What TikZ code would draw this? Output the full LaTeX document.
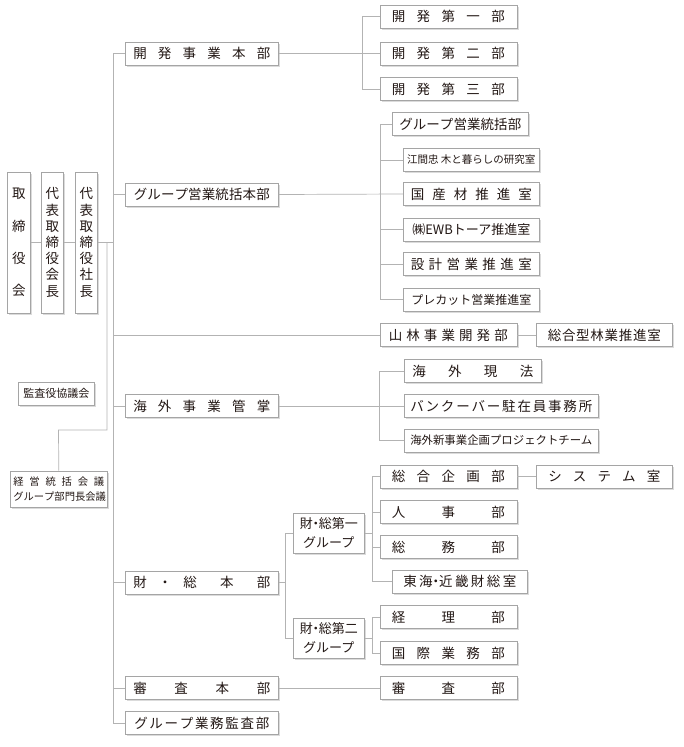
\documentclass[tikz,border=0pt]{standalone}
\usepackage{fontspec}
\setmainfont{Noto Sans CJK JP}
\usetikzlibrary{shadows}
\definecolor{ink}{HTML}{231815}
\definecolor{rulegray}{HTML}{B3B3B3}
\definecolor{edgegray}{HTML}{A5A5A5}
\makeatletter
\newcommand\spread[2]{\makebox[#1][s]{\spread@first#2\@nil}}
\def\spread@first#1{#1\spread@rest}
\def\spread@rest#1{\ifx#1\@nil\else\hfill#1\expandafter\spread@rest\fi}
\makeatother
\newcommand\ndot{\kern-3.5pt・\kern-3.5pt}
\begin{document}
\begin{tikzpicture}[x=1pt, y=-1pt,
        dept/.style={draw=edgegray, line width=0.6pt, fill=white, text=ink,
            drop shadow={shadow xshift=1.8pt, shadow yshift=-1.8pt, fill=black!28},
            inner sep=0pt, minimum height=23pt, anchor=west,
            font=\fontsize{13.5pt}{16pt}\selectfont},
        vert/.style={dept, minimum height=141pt, align=center},
        link/.style={draw=rulegray, line width=0.7pt}]
        \useasboundingbox (0,0) rectangle (684,747);
        % board
        \node[vert, minimum width=23pt, font=\fontsize{13.5pt}{32.3pt}\selectfont] (torishimari) at (7,242.5) {取\\締\\役\\会};
        \node[vert, minimum width=22pt, font=\fontsize{13.5pt}{16.2pt}\selectfont] (kaicho) at (41,242.5) {代\\表\\取\\締\\役\\会\\長};
        \node[vert, minimum width=22pt, font=\fontsize{13.5pt}{16.2pt}\selectfont] (shacho) at (75,242.5) {代\\表\\取\\締\\役\\社\\長};
        \node[dept, minimum width=76pt, font=\fontsize{11pt}{13pt}\selectfont] (kansayaku) at (18,393.5) {監査役協議会};
        \node[dept, minimum width=97pt, minimum height=36pt, align=center, font=\fontsize{10.3pt}{15pt}\selectfont] (keiei) at (10,489) {\spread{91pt}{経営統括会議}\\\spread{91pt}{グループ部門長会議}};
        % head offices
        \node[dept, minimum width=153pt] (kaihatsu) at (125,53.5) {\spread{137pt}{開発事業本部}};
        \node[dept, minimum width=153pt] (eigyo) at (125,194.5) {\spread{136pt}{グループ営業統括本部}};
        \node[dept, minimum width=153pt] (kaigai) at (125,406) {\spread{137pt}{海外事業管掌}};
        \node[dept, minimum width=153pt] (zaiso) at (125,582.5) {\makebox[137pt][s]{財\hfill ・\hfill 総\hfill\hfill 本\hfill\hfill 部}};
        \node[dept, minimum width=153pt] (shinsahon) at (125,688) {\spread{137pt}{審査本部}};
        \node[dept, minimum width=153pt] (gkansa) at (125,723) {\spread{135pt}{グループ業務監査部}};
        % development
        \node[dept, minimum width=137pt] (kai1) at (379.5,16.5) {\spread{113pt}{開発第一部}};
        \node[dept, minimum width=137pt] (kai2) at (379.5,53.5) {\spread{113pt}{開発第二部}};
        \node[dept, minimum width=137pt] (kai3) at (379.5,89) {\spread{113pt}{開発第三部}};
        % sales
        \node[dept, minimum width=136pt] (eigyobu) at (392,124) {\spread{122pt}{グループ営業統括部}};
        \node[dept, minimum width=136pt, font=\fontsize{10.5pt}{12pt}\selectfont] (ema) at (403,160) {江間忠 木と暮らしの研究室};
        \node[dept, minimum width=136pt] (kokusan) at (403,194) {\spread{121pt}{国産材推進室}};
        \node[dept, minimum width=136pt, font=\fontsize{13pt}{15pt}\selectfont] (ewb) at (403,229.5) {㈱EWBトーア推進室};
        \node[dept, minimum width=136pt] (sekkei) at (403,264) {\spread{121pt}{設計営業推進室}};
        \node[dept, minimum width=136pt, font=\fontsize{12pt}{14pt}\selectfont] (precut) at (403,299.5) {プレカット営業推進室};
        % forestry
        \node[dept, minimum width=137pt] (sanrin) at (379.5,335) {\spread{119pt}{山林事業開発部}};
        \node[dept, minimum width=136pt] (sogogata) at (536,335) {\spread{113pt}{総合型林業推進室}};
        % overseas
        \node[dept, minimum width=137pt] (genpo) at (404,371) {\spread{121pt}{海外現法}};
        \node[dept, minimum width=194pt] (vanc) at (404,406) {\spread{182pt}{バンクーバー駐在員事務所}};
        \node[dept, minimum width=194pt, font=\fontsize{11.4pt}{13pt}\selectfont] (shinjigyo) at (404,440.5) {海外新事業企画プロジェクトチーム};
        % finance and general affairs
        \node[dept, minimum width=71pt, minimum height=40pt, align=center, font=\fontsize{13pt}{18.5pt}\selectfont] (zai1) at (293,533) {財\ndot 総第一\\グループ};
        \node[dept, minimum width=71pt, minimum height=40pt, align=center, font=\fontsize{13pt}{18.5pt}\selectfont] (zai2) at (293,638) {財\ndot 総第二\\グループ};
        \node[dept, minimum width=137pt] (sogo) at (379.5,476.5) {\spread{113pt}{総合企画部}};
        \node[dept, minimum width=136pt] (system) at (536,476.5) {\spread{112pt}{システム室}};
        \node[dept, minimum width=137pt] (jinji) at (379.5,512) {\spread{113pt}{人事部}};
        \node[dept, minimum width=137pt] (somu) at (379.5,547) {\spread{113pt}{総務部}};
        \node[dept, minimum width=135pt] (tokai) at (392,581.5) {\makebox[113pt][s]{東\hfill 海\ndot 近\hfill 畿\hfill 財\hfill 総\hfill 室}};
        \node[dept, minimum width=137pt] (keiri) at (379.5,617) {\spread{113pt}{経理部}};
        \node[dept, minimum width=137pt] (kokusai) at (379.5,653) {\spread{113pt}{国際業務部}};
        \node[dept, minimum width=137pt] (shinsa) at (379.5,688) {\spread{113pt}{審査部}};
        % buses
        \coordinate (trunk) at (113,0);
        \coordinate (sbus) at (107,0);
        \coordinate (kbend) at (58.5,430);
        \coordinate (kbus) at (362,0);
        \coordinate (ebus) at (380,0);
        \coordinate (gbus) at (379,0);
        \coordinate (zbus) at (285,0);
        \coordinate (zsub) at (372,0);
        % connectors
        \draw[link] (torishimari) -- (kaicho);
        \draw[link] (kaicho) -- (shacho);
        \draw[link] (shacho.east) -- (shacho.east -| trunk);
        \draw[link] (shacho.east -| sbus) |- (kbend) -- (keiei.north);
        \draw[link] (kaihatsu.west) -| (trunk |- gkansa.west) -- (gkansa.west);
        \foreach \n in {eigyo, sanrin, kaigai, zaiso, shinsahon}
            \draw[link] (trunk |- \n.west) -- (\n.west);
        \draw[link] (kaihatsu.east) -- (kai2.west);
        \draw[link] (kai1.west) -- (kai1.west -| kbus) |- (kai3.west);
        \draw[link] (eigyo.east) -- (kokusan.west);
        \draw[link] (eigyobu.west) -- (eigyobu.west -| ebus) |- (precut.west);
        \foreach \n in {ema, ewb, sekkei}
            \draw[link] (ebus |- \n.west) -- (\n.west);
        \draw[link] (sanrin.east) -- (sogogata.west);
        \draw[link] (kaigai.east) -- (vanc.west);
        \draw[link] (genpo.west) -- (genpo.west -| gbus) |- (shinjigyo.west);
        \draw[link] (zaiso.east) -- (zaiso.east -| zbus);
        \draw[link] (zai1.west) -- (zai1.west -| zbus) |- (zai2.west);
        \draw[link] (zai1.east) -- (zai1.east -| zsub);
        \draw[link] (sogo.west) -- (sogo.west -| zsub) |- (tokai.west);
        \foreach \n in {jinji, somu}
            \draw[link] (zsub |- \n.west) -- (\n.west);
        \draw[link] (zai2.east) -- (zai2.east -| zsub);
        \draw[link] (keiri.west) -- (keiri.west -| zsub) |- (kokusai.west);
        \draw[link] (sogo.east) -- (system.west);
        \draw[link] (shinsahon.east) -- (shinsa.west);
\end{tikzpicture}
\end{document}
